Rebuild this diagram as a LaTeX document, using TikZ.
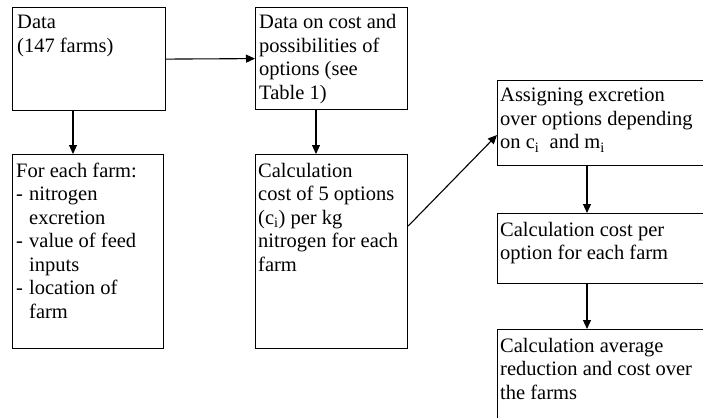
\documentclass[tikz,border=0pt]{standalone}
\usepackage{fontspec}
\setmainfont{Liberation Serif}
\usetikzlibrary{arrows.meta}
\tikzset{
  box/.style={draw, line width=1.2pt, rectangle, inner sep=0pt, anchor=north west},
  txt/.style={anchor=base west, inner sep=0pt, font=\fontsize{20.5pt}{23.5pt}\selectfont},
  arr/.style={line width=1.1pt, -{Triangle[length=9pt,width=8pt]}}
}
\newcommand{\dash}{\makebox[13pt][l]{-}}
\newcommand{\ind}{\hspace*{13pt}}
\newcommand{\lines}[1]{\parbox[t]{230pt}{\raggedright #1}}
\begin{document}
\begin{tikzpicture}[x=1pt,y=-1pt]
\useasboundingbox (0,0) rectangle (703,417);
\fill[white] (0,0) rectangle (703,417);
\clip (0,0) rectangle (703,417);
% boxes
\node[box, minimum width=153pt, minimum height=103pt] (a) at (12,7) {};
\node[box, minimum width=152pt, minimum height=102pt] (b) at (255,7) {};
\node[box, minimum width=151pt, minimum height=194pt] (c) at (12,154) {};
\node[box, minimum width=152pt, minimum height=194pt] (d) at (255,154) {};
\node[box, minimum width=226pt, minimum height=85pt] (e) at (497,80) {};
\node[box, minimum width=226pt, minimum height=70pt] (f) at (497,213) {};
\node[box, minimum width=226pt, minimum height=120pt] (g) at (497,329) {};
% texts
\node[txt] (ta) at (17,29) {\lines{Data\\(147 farms)}};
\node[txt] (tb) at (259,29) {\lines{Data on cost and\\possibilities of\\options (see\\Table 1)}};
\node[txt] (tc) at (16,177) {\lines{For each farm:\\\dash nitrogen\\\ind excretion\\\dash value of feed\\\ind inputs\\\dash location of\\\ind farm}};
\node[txt] (td) at (258,177) {\lines{Calculation\\cost of 5 options\\(c\textsubscript{i}) per kg\\nitrogen for each\\farm}};
\node[txt] (te) at (500,102) {\lines{Assigning excretion\\over options depending\\on c\textsubscript{i}\ \ and m\textsubscript{i}}};
\node[txt] (tf) at (500,236) {\lines{Calculation cost per\\option for each farm}};
\node[txt] (tg) at (500,352) {\lines{Calculation average\\reduction and cost over\\the farms}};
% arrows
\draw[arr] (a.east) -- (b.west);
\draw[arr] ([xshift=61pt]a.south west) -- ([xshift=61pt]c.north west);
\draw[arr] ([xshift=61pt]b.south west) -- ([xshift=61pt]d.north west);
\draw[arr] ([yshift=-72pt]d.north east) -- ([yshift=-55pt]e.north west);
\draw[arr] ([xshift=90pt]e.south west) -- ([xshift=90pt]f.north west);
\draw[arr] ([xshift=90pt]f.south west) -- ([xshift=90pt]g.north west);
\end{tikzpicture}
\end{document}
